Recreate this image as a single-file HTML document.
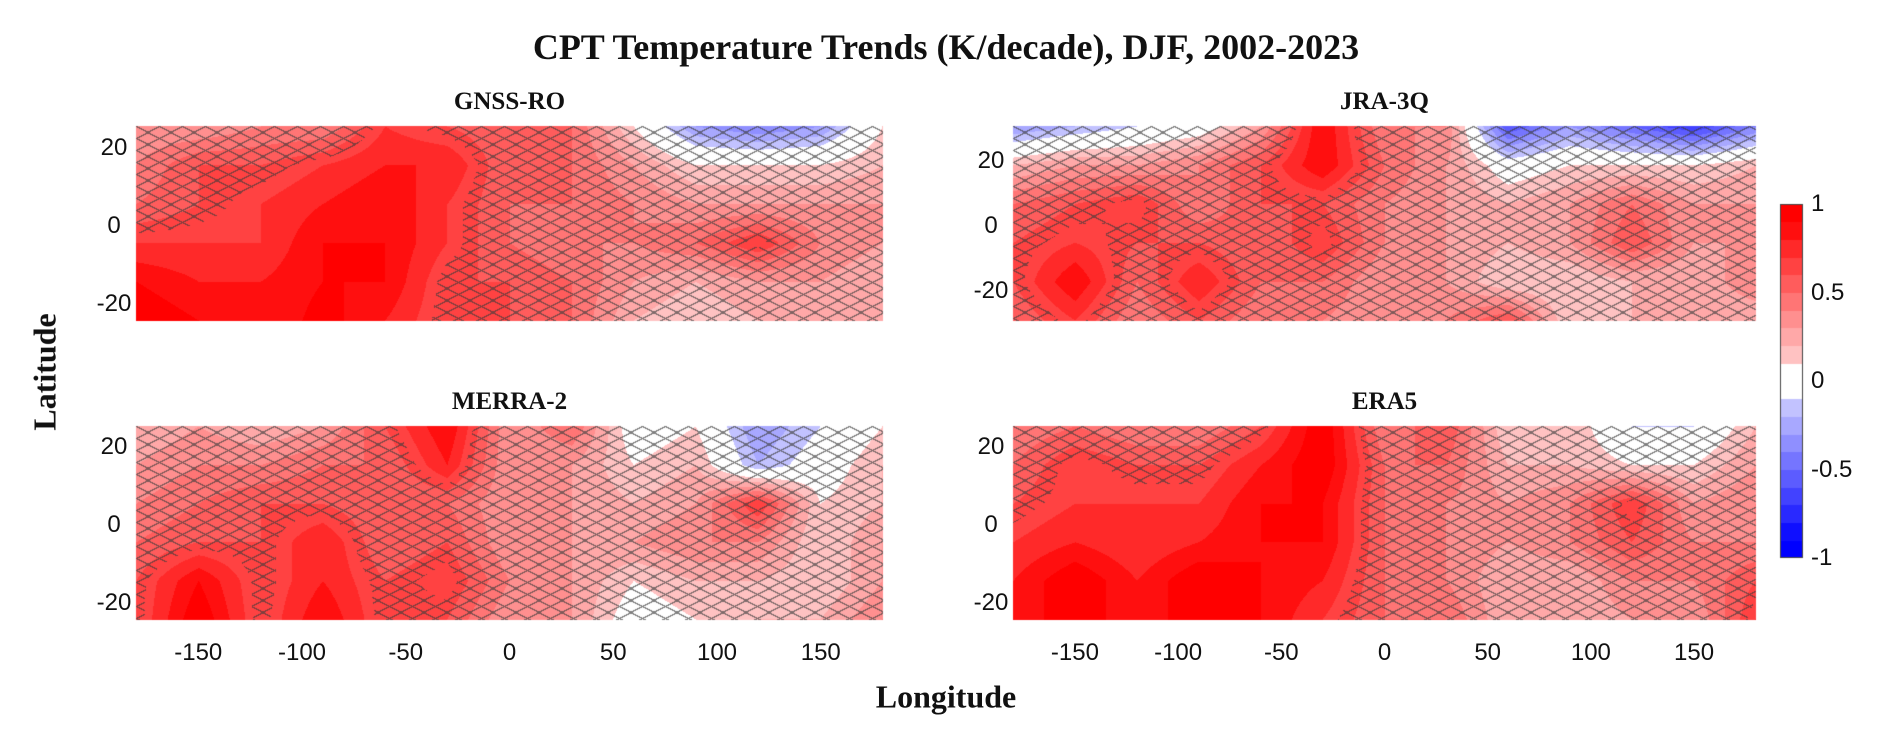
<!DOCTYPE html>
<html><head><meta charset="utf-8"><style>
body{margin:0;background:#fff;width:1892px;height:740px;overflow:hidden;position:relative;font-family:"Liberation Sans",sans-serif}
.t{position:absolute;white-space:nowrap;color:#111}
.serif{font-family:"Liberation Serif",serif;font-weight:bold}
.tick{font-size:24px;transform:translate(-50%,-50%)}
.sub{font-size:25px;transform:translate(-50%,-50%)}
canvas{position:absolute;left:0;top:0}
</style></head><body>
<canvas id="cv" width="1892" height="740"></canvas>
<div class="t serif" style="left:946px;top:47px;font-size:36px;transform:translate(-50%,-50%)">CPT Temperature Trends (K/decade), DJF, 2002-2023</div>
<div class="t serif" style="left:946px;top:697px;font-size:32px;transform:translate(-50%,-50%)">Longitude</div>
<div class="t serif" style="left:45px;top:372px;font-size:32px;transform:translate(-50%,-50%) rotate(-90deg)">Latitude</div>
<div id="labels"></div>
<script>
// Data
const lons = [-180,-150,-120,-90,-60,-30,0,30,60,90,120,150,180];
const gnssValues = [
[0.3,0.3,0.4,0.4,0.7,0.6,0.5,0.5,0.1,-0.3,-0.4,-0.3,0.1],
[0.4,0.6,0.6,0.7,0.8,0.8,0.5,0.5,0.3,0.1,0.1,0.1,0.2],
[0.5,0.6,0.7,0.8,0.9,0.7,0.5,0.5,0.4,0.3,0.3,0.3,0.3],
[0.7,0.7,0.7,0.9,0.9,0.7,0.5,0.4,0.4,0.5,0.7,0.4,0.3],
[0.9,0.8,0.8,0.9,0.9,0.6,0.6,0.5,0.3,0.2,0.3,0.3,0.2],
[1.0,0.9,0.8,0.95,0.8,0.6,0.6,0.5,0.2,0.1,0.2,0.2,0.2]];
const jraValues = [
[-0.3,-0.2,-0.1,0,0.3,0.9,0.4,0.4,-0.6,-0.3,-0.5,-0.7,-0.4],
[0.2,0.3,0.3,0.4,0.6,0.9,0.5,0.3,0.0,0.1,0.1,0.1,0.2],
[0.5,0.6,0.7,0.4,0.6,0.6,0.4,0.3,0.2,0.3,0.5,0.3,0.3],
[0.6,0.7,0.6,0.6,0.5,0.7,0.4,0.3,0.2,0.3,0.6,0.3,0.3],
[0.6,0.9,0.5,0.8,0.5,0.5,0.3,0.3,0.1,0.1,0.2,0.2,0.4],
[0.5,0.7,0.4,0.6,0.4,0.4,0.3,0.4,0.6,0.1,0.2,0.2,0.2]];
const merraValues = [
[0.2,0.3,0.2,0.3,0.6,0.9,0.3,0.5,0.0,0.1,-0.3,-0.1,0.1],
[0.3,0.4,0.4,0.5,0.5,0.8,0.3,0.3,0.1,0.2,-0.2,0.0,0.2],
[0.4,0.5,0.6,0.6,0.5,0.5,0.3,0.3,0.2,0.3,0.7,0.1,0.2],
[0.5,0.6,0.6,0.8,0.5,0.6,0.3,0.3,0.3,0.4,0.4,0.1,0.3],
[0.6,0.9,0.6,0.8,0.6,0.7,0.4,0.3,0.1,0.2,0.2,0.1,0.3],
[0.6,1.0,0.6,0.9,0.6,0.6,0.3,0.3,0.0,0.1,0.2,0.2,0.4]];
const era5Values = [
[0.4,0.5,0.4,0.4,0.6,1.0,0.4,0.6,0.1,0.2,-0.1,-0.1,0.2],
[0.5,0.7,0.6,0.6,0.8,1.0,0.5,0.5,0.2,0.2,0.1,0.1,0.3],
[0.6,0.7,0.7,0.7,0.9,0.9,0.5,0.4,0.3,0.4,0.7,0.3,0.4],
[0.7,0.8,0.7,0.8,0.9,0.9,0.5,0.4,0.3,0.4,0.6,0.4,0.4],
[0.8,1.0,0.8,1.0,0.9,0.8,0.5,0.4,0.2,0.2,0.4,0.4,0.6],
[0.8,1.0,0.8,1.0,0.9,0.7,0.5,0.5,0.2,0.2,0.3,0.3,0.7]];
const xTickLabels = [-150,-100,-50,0,50,100,150];
const yTickLabels = [20,0,-20];
const cbTickLabels = [1,0.5,0,-0.5,-1];

const panels = [
 {name:'gnss-ro',title:'GNSS-RO',vals:gnssValues,x0:136,x1:883,y0:126,y1:321,lat:25},
 {name:'jra-3q',title:'JRA-3Q',vals:jraValues,x0:1013,x1:1756,y0:126,y1:321,lat:30},
 {name:'merra-2',title:'MERRA-2',vals:merraValues,x0:136,x1:883,y0:426,y1:620,lat:25},
 {name:'era5',title:'ERA5',vals:era5Values,x0:1013,x1:1756,y0:426,y1:620,lat:25}];

function color(v){
  v=Math.max(-1,Math.min(1,v));
  let k=Math.floor(Math.abs(v)*10+1e-9); if(k>=10)k=9;
  if(k<1) return [255,255,255];
  const m=Math.min(1,(k+1.4)/10), c=Math.round(255*(1-m));
  return v>0?[255,c,c]:[c,c,255];
}
const cv=document.getElementById('cv'),ctx=cv.getContext('2d');
const img=ctx.createImageData(1892,740);
for(let i=0;i<img.data.length;i++)img.data[i]=255;
const L=document.getElementById('labels');
function lab(txt,x,y,cls,name){
  const d=document.createElement('div');d.className='t '+cls;d.textContent=txt;
  d.style.left=x+'px';d.style.top=y+'px';
  
  
  L.appendChild(d);
}
panels.forEach(p=>{
  const W=p.x1-p.x0,H=p.y1-p.y0,nr=p.vals.length,nc=lons.length;
  const xs=lon=>p.x0+(lon+180)/360*W;
  const ys=lat=>p.y0+(p.lat-lat)/(2*p.lat)*H;
  for(let y=p.y0;y<p.y1;y++){
    const fy=(y-p.y0)/(H-1)*(nr-1);let r0=Math.min(Math.floor(fy),nr-2),ty=fy-r0;
    for(let x=p.x0;x<p.x1;x++){
      const fx=(x-p.x0)/(W-1)*(nc-1);let c0=Math.min(Math.floor(fx),nc-2),tx=fx-c0;
      const a=p.vals[r0][c0],b=p.vals[r0][c0+1],c=p.vals[r0+1][c0],d=p.vals[r0+1][c0+1];
      const v=(a*(1-tx)+b*tx)*(1-ty)+(c*(1-tx)+d*tx)*ty;
      let col=color(v);
      if(Math.abs(v)<0.65){
        const lx=x-p.x0,ly=y-p.y0;
        const u1=lx/23+ly/12,u2=lx/23-ly/12;
        const d1=Math.abs(u1-Math.round(u1))/0.094,d2=Math.abs(u2-Math.round(u2))/0.094;
        if(Math.min(d1,d2)<0.7){col=col.map(q=>Math.round(q*0.35+60*0.65));}
      }
      const i=(y*1892+x)*4;img.data[i]=col[0];img.data[i+1]=col[1];img.data[i+2]=col[2];
    }
  }
  lab(p.title,(p.x0+p.x1)/2,(p.y0-24),'serif sub','panel-title-'+p.name);
  yTickLabels.forEach(t=>lab(String(t),p.x0-22,ys(t)+2,'tick','y-tick-'+p.name));
  if(p.y0>400) xTickLabels.forEach(t=>lab(String(t),xs(t),653,'tick','x-tick-'+p.name));
});
// colorbar
const cb={x0:1780,x1:1803,y0:204,y1:558};
for(let y=cb.y0;y<cb.y1;y++){
  const v=1-2*(y-cb.y0)/(cb.y1-cb.y0);const col=color(v>0?v-0.0001:v+0.0001);
  for(let x=cb.x0;x<cb.x1;x++){const i=(y*1892+x)*4;img.data[i]=col[0];img.data[i+1]=col[1];img.data[i+2]=col[2];}
}
ctx.putImageData(img,0,0);
ctx.strokeStyle='#444';ctx.lineWidth=1;ctx.strokeRect(cb.x0+0.5,cb.y0+0.5,cb.x1-cb.x0-1,cb.y1-cb.y0-1);
cbTickLabels.forEach(t=>{
  const y=cb.y0+(1-t)/2*(cb.y1-cb.y0);
  const d=document.createElement('div');d.className='t';d.textContent=String(t);
  d.style.left=(cb.x1+8)+'px';d.style.top=(y-14)+'px';d.style.fontSize='24px';
  
  
  L.appendChild(d);
});
</script>
</body></html>
